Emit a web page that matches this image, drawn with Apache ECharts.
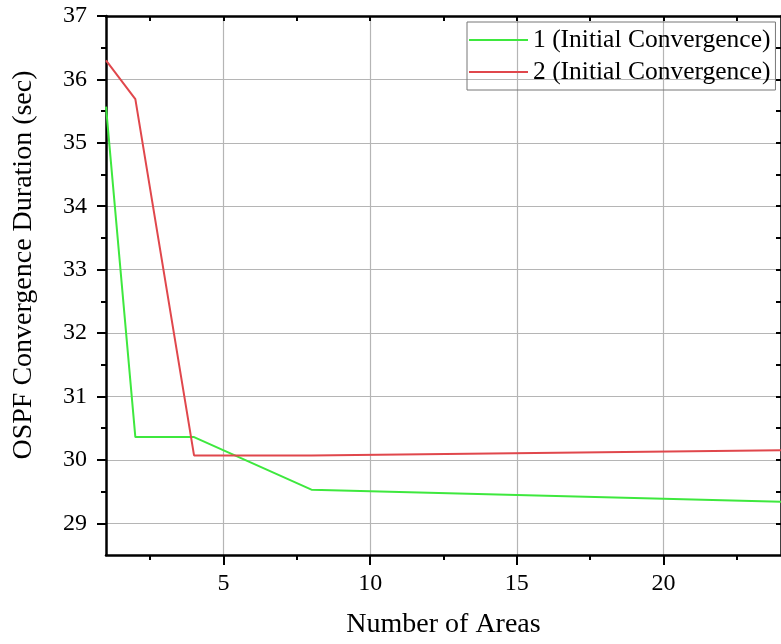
<!DOCTYPE html>
<html>
<head>
<meta charset="utf-8">
<script src="https://cdn.jsdelivr.net/npm/echarts@6/dist/echarts.min.js"></script>
<style>html,body{margin:0;padding:0;background:#fff;}#c{width:781px;height:644px;}</style>
</head>
<body>
<div id="c"></div>
<script>
const xAreas = [1, 2, 4, 8, 24];
const conv1 = [35.57, 30.36, 30.36, 29.53, 29.34];
const conv2 = [36.30, 35.69, 30.07, 30.07, 30.15];
const seriesNames = ['1 (Initial Convergence)', '2 (Initial Convergence)'];
const xMajor = [5, 10, 15, 20];
const xMinor = [2.5, 7.5, 12.5, 17.5, 22.5];
const xTop = [2.5, 5, 7.5, 10, 12.5, 15, 17.5, 20, 22.5];
const yMajor = [29, 30, 31, 32, 33, 34, 35, 36, 37];
const yMinor = [29.5, 30.5, 31.5, 32.5, 33.5, 34.5, 35.5, 36.5];
const yRight = [29, 29.5, 30, 30.5, 31, 31.5, 32, 32.5, 33, 33.5, 34, 34.5, 35, 35.5, 36, 36.5];

const FONT = 'Liberation Serif';
const axisLineStyle = { color: '#000', width: 2.5 };
const grid = { left: 106, top: 16, right: -2, bottom: 82 };

const chart = echarts.init(document.getElementById('c'), null, { renderer: 'canvas' });
chart.setOption({
  animation: false,
  backgroundColor: '#fff',
  grid: grid,
  legend: {
    left: 467, top: 22, orient: 'vertical',
    padding: [5, 5, 5, 2], itemGap: 6, itemWidth: 59, itemHeight: 2,
    borderColor: '#777', borderWidth: 1,
    textStyle: { fontFamily: FONT, fontSize: 25.5, color: '#000', lineHeight: 25.5 },
    data: [
      { name: seriesNames[0], icon: 'rect' },
      { name: seriesNames[1], icon: 'rect' }
    ]
  },
  xAxis: [
    {
      type: 'value', min: 1, max: 24, position: 'bottom',
      name: 'Number of Areas', nameLocation: 'middle', nameGap: 56,
      nameTextStyle: { fontFamily: FONT, fontSize: 28, color: '#000' },
      axisLine: { lineStyle: axisLineStyle },
      axisTick: { customValues: xMajor, length: 10, inside: false, lineStyle: { color: '#000', width: 2 } },
      axisLabel: { customValues: xMajor, margin: 17, fontFamily: FONT, fontSize: 24, color: '#000' },
      splitLine: { show: true, lineStyle: { color: '#b5b5b5', width: 1.2 } }
    },
    {
      type: 'value', min: 1, max: 24, position: 'bottom',
      axisLine: { show: false },
      axisTick: { customValues: xMinor, length: 5, inside: false, lineStyle: { color: '#000', width: 2 } },
      axisLabel: { show: false },
      splitLine: { show: false }
    },
    {
      type: 'value', min: 1, max: 24, position: 'top',
      axisLine: { lineStyle: axisLineStyle },
      axisTick: { customValues: xTop, length: 5, inside: true, lineStyle: { color: '#000', width: 2 } },
      axisLabel: { show: false },
      splitLine: { show: false }
    }
  ],
  yAxis: [
    {
      type: 'value', min: 28.5, max: 37, position: 'left',
      name: 'OSPF Convergence Duration (sec)', nameLocation: 'middle', nameGap: 68,
      nameTextStyle: { fontFamily: FONT, fontSize: 28, color: '#000', padding: [0, 0, 0, 41] },
      axisLine: { lineStyle: axisLineStyle },
      axisTick: { customValues: yMajor, length: 9, inside: false, lineStyle: { color: '#000', width: 2 } },
      axisLabel: { customValues: yMajor, margin: 19, fontFamily: FONT, fontSize: 24, color: '#000' },
      splitLine: { show: true, lineStyle: { color: '#b5b5b5', width: 1.2 } }
    },
    {
      type: 'value', min: 28.5, max: 37, position: 'left',
      axisLine: { show: false },
      axisTick: { customValues: yMinor, length: 5, inside: false, lineStyle: { color: '#000', width: 2 } },
      axisLabel: { show: false },
      splitLine: { show: false }
    },
    {
      type: 'value', min: 28.5, max: 37, position: 'right',
      axisLine: { lineStyle: axisLineStyle },
      axisTick: { customValues: yRight, length: 5, inside: true, lineStyle: { color: '#000', width: 2 } },
      axisLabel: { show: false },
      splitLine: { show: false }
    }
  ],
  series: [
    {
      name: seriesNames[0], type: 'line', xAxisIndex: 0, yAxisIndex: 0,
      data: xAreas.map((x, i) => [x, conv1[i]]),
      symbol: 'none', showSymbol: false,
      itemStyle: { color: '#3ee83e' },
      lineStyle: { color: '#3ee83e', width: 2 }
    },
    {
      name: seriesNames[1], type: 'line', xAxisIndex: 0, yAxisIndex: 0,
      data: xAreas.map((x, i) => [x, conv2[i]]),
      symbol: 'none', showSymbol: false,
      itemStyle: { color: '#e0474c' },
      lineStyle: { color: '#e0474c', width: 2 }
    }
  ]
});
</script>
</body>
</html>
